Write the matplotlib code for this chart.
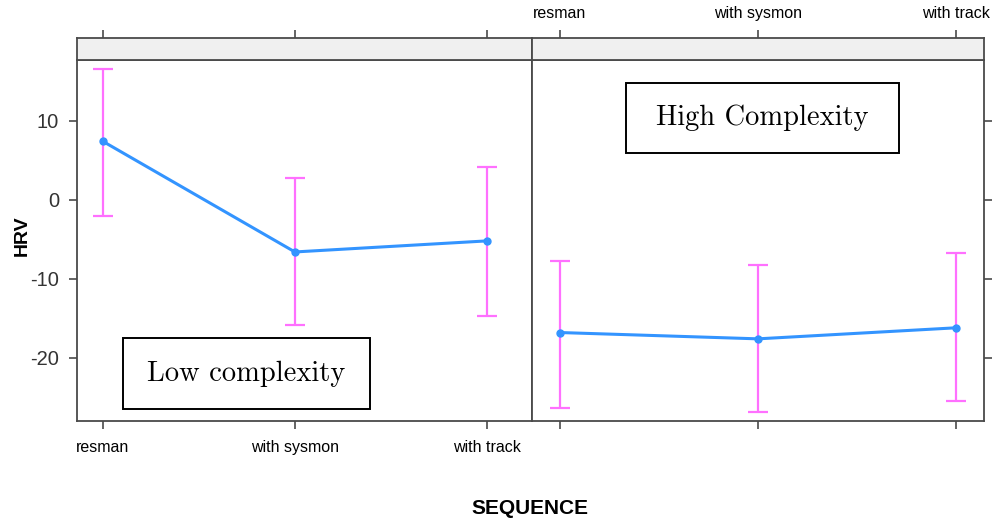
import matplotlib
matplotlib.use("Agg")
import matplotlib.pyplot as plt
from matplotlib.patches import Rectangle

# data
sequence = ["resman", "with sysmon", "with track"]
low_mean = [7.4, -6.6, -5.2]
low_upper = [16.6, 2.7, 4.2]
low_lower = [-2.0, -15.8, -14.7]
high_mean = [-16.8, -17.6, -16.2]
high_upper = [-7.7, -8.3, -6.7]
high_lower = [-26.3, -26.8, -25.5]
yticks = [10, 0, -10, -20]

plt.rcParams['font.family'] = ['Liberation Sans', 'DejaVu Sans']

frame_col = '#4a4a4a'
line_col = '#3394ff'
err_col = '#ff70ff'

fig = plt.figure(figsize=(9.95, 5.22), dpi=100)

W, H = 995.0, 522.0
def rect(x0, y0, x1, y1):
    return [x0 / W, 1 - y1 / H, (x1 - x0) / W, (y1 - y0) / H]

panels = [
    dict(mean=low_mean, up=low_upper, lo=low_lower, x0=77, x1=532, xlim=(0.865, 3.235),
         label="Low complexity", box=(0.101, 0.033, 0.644, 0.230)),
    dict(mean=high_mean, up=high_upper, lo=high_lower, x0=532, x1=984, xlim=(0.86, 3.14),
         label="High Complexity", box=(0.208, 0.742, 0.812, 0.936)),
]

xs = [1, 2, 3]
for i, p in enumerate(panels):
    ax = fig.add_axes(rect(p['x0'], 60, p['x1'], 421))
    yerr = [[m - l for m, l in zip(p['mean'], p['lo'])],
            [u - m for m, u in zip(p['mean'], p['up'])]]
    ax.errorbar(xs, p['mean'], yerr=yerr, fmt='none', ecolor=err_col,
                elinewidth=1.6, capsize=7, capthick=1.6, zorder=2)
    ax.plot(xs, p['mean'], color=line_col, lw=2.2, marker='o', ms=5, zorder=3)
    ax.set_xlim(*p['xlim'])
    ax.set_ylim(-28.0, 17.7)
    ax.set_yticks(yticks)
    ax.set_xticks(xs)
    for s in ax.spines.values():
        s.set_color(frame_col)
        s.set_linewidth(1.3)
    ax.tick_params(color=frame_col, width=1.2, length=6, direction='out')
    if i == 0:
        ax.set_xticklabels(sequence, fontsize=11.5)
        ax.tick_params(axis='x', pad=8)
        ax.set_yticklabels([str(t) for t in yticks], fontsize=14.5, color='#333333')
        ax.tick_params(axis='y', pad=7)
    else:
        ax.set_xticklabels([])
        ax.yaxis.tick_right()
        ax.set_yticklabels([])

    bx0, by0, bx1, by1 = p['box']
    ax.add_patch(Rectangle((bx0, by0), bx1 - bx0, by1 - by0, transform=ax.transAxes,
                           fill=False, edgecolor='black', lw=1.4, zorder=5))
    ax.text((bx0 + bx1) / 2, (by0 + by1) / 2, p['label'], transform=ax.transAxes,
            ha='center', va='center', fontsize=20.5, family='cmr10', zorder=6)

    # strip on top
    st = fig.add_axes(rect(p['x0'], 38, p['x1'], 60))
    st.set_facecolor('#f0f0f0')
    st.set_xlim(*p['xlim'])
    st.set_yticks([])
    st.set_xticks(xs)
    st.xaxis.tick_top()
    st.tick_params(color=frame_col, width=1.2, length=6, direction='out')
    for s in st.spines.values():
        s.set_color(frame_col)
        s.set_linewidth(1.3)
    if i == 1:
        st.set_xticklabels(sequence, fontsize=11.5)
        st.tick_params(axis='x', pad=6)
    else:
        st.set_xticklabels([])

fig.text(22 / W, 1 - 236 / H, "HRV", rotation=90, ha='center', va='center',
         fontsize=14, fontweight='bold')
fig.text(530 / W, 1 - 509 / H, "SEQUENCE", ha='center', va='center',
         fontsize=15, fontweight='bold')

fig.savefig("out.png", dpi=100)
